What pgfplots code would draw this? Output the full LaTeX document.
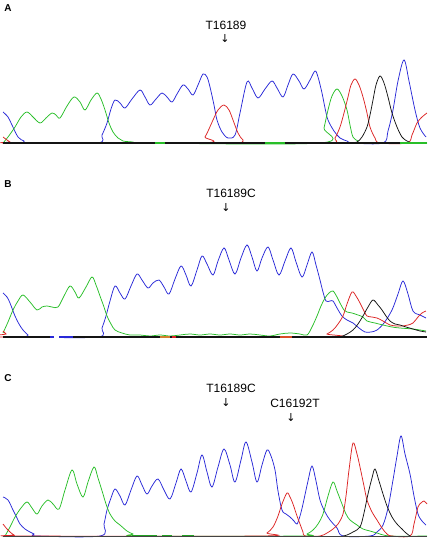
\documentclass[border=0pt]{standalone}
\usepackage{pgfplots}
\pgfplotsset{compat=1.18}
\usepackage{fontspec}
\setmainfont{Liberation Sans}
\newfontfamily\dv{DejaVu Sans}
\definecolor{tb}{RGB}{40,40,215}
\definecolor{tg}{RGB}{40,190,40}
\definecolor{tr}{RGB}{220,35,35}
\definecolor{tk}{RGB}{20,20,20}
\pgfplotsset{
  panel/.style={width=430pt, scale only axis, xmin=0, xmax=430, hide axis, clip=false, anchor=north west},
  tr/.style={line width=0.75pt, smooth, tension=0.55, mark=none},
}
\newcommand{\lab}[1]{\fontsize{10}{12}\selectfont\bfseries #1}
\newcommand{\mut}[1]{\fontsize{12}{14}\selectfont #1}
\newcommand{\arr}{\fontsize{11}{13}\selectfont\dv ↓}
\begin{document}
\begin{tikzpicture}
\path[use as bounding box] (0,0) rectangle (430pt,-539pt);
% ---------------- Panel A ----------------
\begin{axis}[panel, at={(0pt,0pt)}, height=160pt, ymin=-17, ymax=143]
\addplot[tr, color=tb] coordinates {(3,31)(8,26)(12,18)(18,6)(24,2)(30,0)(97,0)(102,8)(107,20)(111,34)(115,43)(120,40)(125,35)(132,44)(140,53)(145,46)(150,38)(156,44)(162,50)(167,46)(172,41)(177,49)(183,58)(188,54)(193,48)(198,58)(203,69)(207,66)(210,56)(214,38)(217,23)(222,11)(228,5)(235,8)(240,30)(247,61)(252,55)(258,45)(265,54)(272,62)(277,55)(283,46)(288,58)(293,69)(299,62)(304,54)(310,63)(315,72)(318,66)(322,50)(325,35)(328,23)(334,12)(340,5)(347,2)(353,0)(383,0)(388,12)(393,33)(398,62)(404,83)(409,62)(415,33)(420,15)(426,6)};
\addplot[tr, color=tg] coordinates {(3,0)(8,6)(15,16)(21,26)(27,31)(33,26)(40,20)(46,25)(52,30)(56,28)(60,25)(67,37)(74,46)(80,41)(85,33)(91,43)(97,50)(101,44)(105,33)(109,20)(113,11)(118,5)(123,2)(133,1)(143,0)(320,0)(324,15)(328,33)(332,47)(337,54)(342,47)(347,33)(350,18)(353,6)(358,2)(363,0)(427,0)};
\addplot[tr, color=tr] coordinates {(3,6)(7,3)(10,1)(14,0)(200,0)(205,6)(209,14)(213,23)(218,33)(224,38)(229,33)(233,23)(238,10)(243,3)(250,0)(330,0)(335,5)(340,16)(344,30)(348,46)(351,58)(355,64)(359,58)(363,46)(367,30)(370,16)(375,5)(380,0)(407,0)(412,8)(417,20)(422,26)(427,30)};
\addplot[tr, color=tk] coordinates {(350,0)(357,1)(362,6)(367,16)(370,28)(373,43)(376,58)(380,67)(384,60)(388,46)(392,30)(397,16)(402,6)(407,2)(412,0)};
\addplot[line width=1.2pt, color=tk] coordinates {(3,0)(427,0)};
\addplot[line width=1.2pt, color=tg] coordinates {(155,0)(165,0)};
\addplot[line width=1.2pt, color=tg] coordinates {(265,0)(285,0)};
\addplot[line width=1.2pt, color=tg] coordinates {(400,0)(427,0)};
\node at (axis cs:8,135) {\lab{A}};
\node at (axis cs:226,118) {\mut{T16189}};
\node at (axis cs:225,104) {\arr};
\end{axis}
% ---------------- Panel B ----------------
\begin{axis}[panel, at={(0pt,-160pt)}, height=190pt, ymin=-13, ymax=177]
\addplot[tr, color=tb] coordinates {(3,44)(7,40)(10,34)(15,21)(19,13)(23,7)(28,2)(32,0)(98,0)(102,9)(106,21)(110,36)(115,51)(120,44)(125,38)(131,51)(137,63)(142,57)(148,49)(153,54)(159,57)(164,50)(169,43)(175,58)(181,71)(186,62)(191,51)(197,67)(202,81)(207,73)(213,62)(218,76)(224,89)(229,77)(235,63)(241,79)(247,92)(252,80)(257,66)(262,79)(268,90)(273,77)(279,62)(285,76)(291,89)(296,75)(302,60)(307,72)(312,85)(316,72)(320,57)(323,45)(326,36)(330,36)(333,36)(337,29)(342,21)(347,17)(353,14)(359,9)(365,5)(371,5)(377,7)(384,14)(392,27)(398,43)(403,56)(408,43)(413,26)(420,22)(426,19)};
\addplot[tr, color=tg] coordinates {(3,4)(8,15)(13,27)(18,36)(23,42)(30,35)(37,27)(42,30)(47,31)(52,30)(58,30)(64,41)(70,51)(75,45)(79,39)(86,50)(92,60)(96,52)(100,41)(104,30)(107,21)(111,13)(115,7)(122,4)(130,2)(140,2)(150,1)(160,2)(170,1)(180,2)(190,3)(200,2)(210,3)(220,2)(230,3)(240,2)(250,3)(260,2)(270,1)(280,3)(290,4)(300,3)(307,2)(312,10)(317,21)(321,31)(325,39)(329,44)(333,46)(337,40)(340,34)(344,27)(347,25)(352,24)(358,22)(363,20)(367,16)(375,14)(383,12)(392,10)(400,9)(413,8)(420,7)(426,6)};
\addplot[tr, color=tr] coordinates {(3,6)(6,3)(9,0)(320,0)(327,3)(333,7)(338,13)(343,21)(347,33)(352,45)(356,41)(360,34)(364,26)(367,21)(372,20)(377,19)(383,16)(390,12)(397,11)(403,11)(408,12)(413,14)(418,20)(422,24)(426,26)};
\addplot[tr, color=tk] coordinates {(335,0)(340,0)(347,3)(353,7)(358,13)(363,21)(368,30)(373,37)(378,32)(382,27)(386,21)(390,16)(395,13)(400,12)(406,10)(413,8)(420,6)(426,5)};
\addplot[line width=1.8pt, color=tk] coordinates {(3,0)(427,0)};
\addplot[line width=1.8pt, color=tb] coordinates {(50,0)(73,0)};
\addplot[line width=1.8pt, color=white] coordinates {(54,0)(59,0)};
\addplot[line width=1.8pt, color=brown!70!orange] coordinates {(160,0)(170,0)};
\addplot[line width=1.8pt, color=tr] coordinates {(172,0)(176,0)};
\addplot[line width=1.8pt, color=brown!60!red] coordinates {(280,0)(292,0)};
\node at (axis cs:8,153) {\lab{B}};
\node at (axis cs:231,144) {\mut{T16189C}};
\node at (axis cs:226,129) {\arr};
\end{axis}
% ---------------- Panel C ----------------
\begin{axis}[panel, at={(0pt,-350pt)}, height=189pt, ymin=-3, ymax=186]
\addplot[tr, color=tb] coordinates {(3,39)(8,36)(13,26)(17,18)(20,12)(25,7)(30,4)(34,2)(37,0)(100,0)(104,12)(107,26)(111,38)(115,47)(120,40)(125,31)(131,46)(137,60)(142,51)(147,42)(152,50)(158,57)(164,46)(170,37)(176,53)(181,67)(186,55)(191,44)(197,63)(202,81)(207,64)(212,49)(218,69)(224,87)(230,71)(235,54)(241,76)(246,94)(252,74)(257,54)(262,71)(267,86)(271,80)(275,66)(278,45)(282,26)(286,22)(290,19)(294,15)(297,12)(300,20)(303,32)(308,55)(312,70)(316,55)(320,36)(325,24)(330,16)(337,8)(343,0)(370,0)(377,4)(383,11)(388,28)(393,56)(397,80)(401,100)(405,82)(410,62)(414,40)(418,22)(422,15)(426,11)};
\addplot[tr, color=tg] coordinates {(5,0)(10,9)(15,19)(21,28)(27,34)(32,28)(37,22)(42,30)(48,36)(53,32)(59,27)(65,46)(72,66)(77,52)(83,39)(88,54)(94,69)(98,58)(103,42)(106,32)(110,22)(115,15)(120,11)(127,5)(133,2)(140,0)(300,0)(307,2)(313,6)(318,12)(323,22)(328,40)(333,54)(337,45)(342,32)(346,22)(350,16)(357,11)(363,7)(370,5)(377,3)(390,0)(427,0)};
\addplot[tr, color=tr] coordinates {(3,12)(7,7)(10,4)(14,1)(18,0)(260,0)(267,3)(273,9)(278,20)(282,32)(287,43)(290,39)(293,32)(297,20)(300,12)(303,4)(305,0)(320,0)(327,3)(333,7)(338,12)(343,22)(346,40)(349,66)(353,93)(357,82)(360,69)(364,50)(367,36)(372,24)(377,16)(382,8)(387,2)(392,0)(410,0)(414,12)(418,29)(421,33)(424,35)(427,32)};
\addplot[tr, color=tk] coordinates {(343,0)(347,1)(353,4)(360,9)(364,23)(368,42)(372,58)(375,67)(379,55)(383,42)(387,30)(392,19)(397,12)(402,7)(406,3)(410,0)};
\addplot[line width=0.9pt, color=tk!80] coordinates {(3,0)(427,0)};
\addplot[line width=1.6pt, color=tg!85!black] coordinates {(132,0.5)(157,0.5)};
\addplot[line width=1.6pt, color=tg!85!black] coordinates {(162,0.5)(172,0.5)};
\addplot[line width=1.6pt, color=tg!85!black] coordinates {(182,0.5)(194,0.5)};
\node at (axis cs:8,158) {\lab{C}};
\node at (axis cs:231,148) {\mut{T16189C}};
\node at (axis cs:226,133) {\arr};
\node at (axis cs:295,133) {\mut{C16192T}};
\node at (axis cs:291,118) {\arr};
\end{axis}
\end{tikzpicture}
\end{document}
